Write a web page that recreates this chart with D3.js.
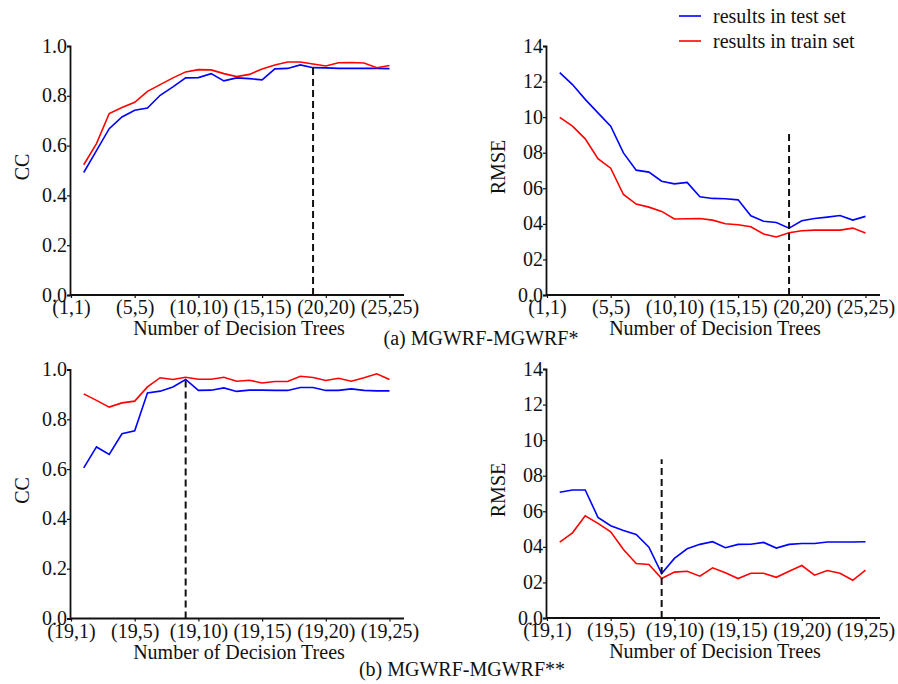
<!DOCTYPE html>
<html>
<head>
<meta charset="utf-8">
<script src="https://cdn.jsdelivr.net/npm/d3@7"></script>
<style>
  body { margin: 0; background: #fff; }
  svg { display: block; }
  svg text { font-family: "Liberation Serif", "Times New Roman", serif; }
</style>
</head>
<body>
<svg id="fig" width="898" height="684"></svg>
<script>
// number of decision trees, positions 1..25
const steps = d3.range(1, 26);
const xTicksA = ['(1,1)', '(5,5)', '(10,10)', '(15,15)', '(20,20)', '(25,25)'];
const xTicksB = ['(19,1)', '(19,5)', '(19,10)', '(19,15)', '(19,20)', '(19,25)'];
const ccTicks = ['0.0', '0.2', '0.4', '0.6', '0.8', '1.0'];
const rmseTicks = ['0.0', '02', '04', '06', '08', '10', '12', '14'];

const ccTestA = [0.492,0.580,0.668,0.715,0.742,0.751,0.802,0.836,0.872,0.873,0.889,0.860,0.872,0.869,0.864,0.908,0.910,0.924,0.913,0.912,0.910,0.910,0.910,0.910,0.909];
const ccTrainA = [0.523,0.608,0.729,0.753,0.774,0.818,0.845,0.872,0.896,0.905,0.904,0.889,0.877,0.886,0.908,0.924,0.936,0.936,0.928,0.920,0.933,0.934,0.932,0.913,0.922];
const rmseTestA = [12.50,11.83,11.00,10.24,9.49,7.99,7.02,6.91,6.40,6.25,6.33,5.52,5.43,5.41,5.35,4.45,4.15,4.08,3.76,4.17,4.30,4.38,4.47,4.21,4.42];
const rmseTrainA = [9.99,9.49,8.78,7.67,7.13,5.65,5.11,4.94,4.70,4.27,4.29,4.30,4.21,4.01,3.95,3.84,3.43,3.26,3.50,3.61,3.65,3.65,3.65,3.76,3.48];

const ccTestB = [0.605,0.689,0.659,0.742,0.754,0.906,0.913,0.930,0.960,0.916,0.917,0.926,0.912,0.917,0.917,0.916,0.916,0.928,0.928,0.916,0.916,0.922,0.916,0.914,0.914];
const ccTrainB = [0.902,0.876,0.849,0.866,0.873,0.930,0.967,0.960,0.969,0.961,0.961,0.969,0.953,0.957,0.946,0.952,0.952,0.973,0.968,0.956,0.965,0.953,0.967,0.983,0.960];
const rmseTestB = [7.07,7.20,7.20,5.66,5.19,4.92,4.70,3.98,2.50,3.35,3.89,4.14,4.29,3.95,4.14,4.15,4.25,3.93,4.14,4.19,4.19,4.27,4.27,4.27,4.29];
const rmseTrainB = [4.27,4.79,5.75,5.32,4.85,3.85,3.06,3.01,2.22,2.58,2.63,2.35,2.82,2.54,2.22,2.52,2.52,2.29,2.63,2.95,2.41,2.67,2.52,2.12,2.69];

// optimum marker: [position, top of dashed line]
const bestA = [19, 0.918];
const bestRmseA = [19, 9.2];
const bestB = [9, 0.960];
const bestRmseB = [9, 8.93];

const seriesNames = ['results in test set', 'results in train set'];
const seriesColors = ['#0000ff', '#ff0000'];
const captions = ['(a) MGWRF-MGWRF*', '(b) MGWRF-MGWRF**'];

const svg = d3.select('#fig');

function drawPanel(cfg) {
    const g = svg.append('g');

    const xscale = d3.scaleLinear()
        .domain([0, 25])
        .range([cfg.left + 1, cfg.left + 319.5]);
    const yscale = d3.scaleLinear()
        .domain([0, cfg.ymax])
        .range([cfg.bottom, cfg.bottom - 249]);

    const xaxis = d3.axisBottom(xscale)
        .tickValues([0, 5, 10, 15, 20, 25])
        .tickFormat((d, i) => cfg.xticks[i])
        .tickSize(3)
        .tickPadding(2);
    const yvals = cfg.yticks.map((t, i) => i * cfg.ymax / (cfg.yticks.length - 1));
    const yaxis = d3.axisLeft(yscale)
        .tickValues(yvals)
        .tickFormat((d, i) => cfg.yticks[i])
        .tickSize(3)
        .tickPadding(0);

    const xg = g.append('g')
        .attr('transform', `translate(0, ${cfg.bottom})`)
        .call(xaxis);
    xg.select('.domain').remove();
    xg.selectAll('line').attr('stroke', '#111').attr('stroke-width', 1.2);
    xg.selectAll('text')
        .style('font-family', '"Liberation Serif", serif')
        .style('font-size', '20px')
        .attr('fill', '#111');
    xg.append('line')
        .attr('x1', cfg.left).attr('x2', cfg.left + 334)
        .attr('stroke', '#111').attr('stroke-width', 1.8);

    const yg = g.append('g')
        .attr('transform', `translate(${cfg.left}, 0)`)
        .call(yaxis);
    yg.select('.domain').attr('stroke', '#111').attr('stroke-width', 1.8);
    yg.selectAll('line').attr('stroke', '#111').attr('stroke-width', 1.2);
    yg.selectAll('text')
        .attr('dy', '0.3em')
        .style('font-family', '"Liberation Serif", serif')
        .style('font-size', '20px')
        .attr('fill', '#111');

    const line = d3.line()
        .x((d, i) => xscale(steps[i]))
        .y(d => yscale(d));

    cfg.series.forEach((s, k) => {
        g.append('path')
            .attr('d', line(s))
            .attr('fill', 'none')
            .attr('stroke', seriesColors[k])
            .attr('stroke-width', 1.6);
    });

    g.append('line')
        .attr('x1', xscale(cfg.best[0])).attr('x2', xscale(cfg.best[0]))
        .attr('y1', yscale(0)).attr('y2', yscale(cfg.best[1]))
        .attr('stroke', '#111')
        .attr('stroke-width', 2)
        .attr('stroke-dasharray', '7,4');

    g.append('text')
        .attr('x', cfg.left + 169)
        .attr('y', cfg.bottom + 40)
        .attr('text-anchor', 'middle')
        .style('font-size', '20px')
        .attr('fill', '#111')
        .text('Number of Decision Trees');

    g.append('text')
        .attr('transform', `translate(${cfg.left - 48}, ${cfg.bottom - 128}) rotate(-90)`)
        .attr('text-anchor', 'middle')
        .attr('dy', '0.35em')
        .style('font-size', '20px')
        .attr('fill', '#111')
        .text(cfg.ylabel);
}

drawPanel({ left: 70, bottom: 295, ymax: 1, xticks: xTicksA, yticks: ccTicks, ylabel: 'CC',
            series: [ccTestA, ccTrainA], best: bestA });
drawPanel({ left: 546, bottom: 295, ymax: 14, xticks: xTicksA, yticks: rmseTicks, ylabel: 'RMSE',
            series: [rmseTestA, rmseTrainA], best: bestRmseA });
drawPanel({ left: 70, bottom: 618.5, ymax: 1, xticks: xTicksB, yticks: ccTicks, ylabel: 'CC',
            series: [ccTestB, ccTrainB], best: bestB });
drawPanel({ left: 546, bottom: 618, ymax: 14, xticks: xTicksB, yticks: rmseTicks, ylabel: 'RMSE',
            series: [rmseTestB, rmseTrainB], best: bestRmseB });

// legend
seriesNames.forEach((name, k) => {
    const y = 16 + k * 25;
    svg.append('line')
        .attr('x1', 679).attr('x2', 701)
        .attr('y1', y).attr('y2', y)
        .attr('stroke', seriesColors[k])
        .attr('stroke-width', 1.6);
    svg.append('text')
        .attr('x', 713).attr('y', y)
        .attr('dy', '0.35em')
        .style('font-size', '20px')
        .attr('fill', '#111')
        .text(name);
});

// captions
svg.append('text')
    .attr('x', 481).attr('y', 345)
    .attr('text-anchor', 'middle')
    .style('font-size', '20px')
    .attr('fill', '#111')
    .text(captions[0]);
svg.append('text')
    .attr('x', 462).attr('y', 676)
    .attr('text-anchor', 'middle')
    .style('font-size', '20px')
    .attr('fill', '#111')
    .text(captions[1]);
</script>
</body>
</html>
